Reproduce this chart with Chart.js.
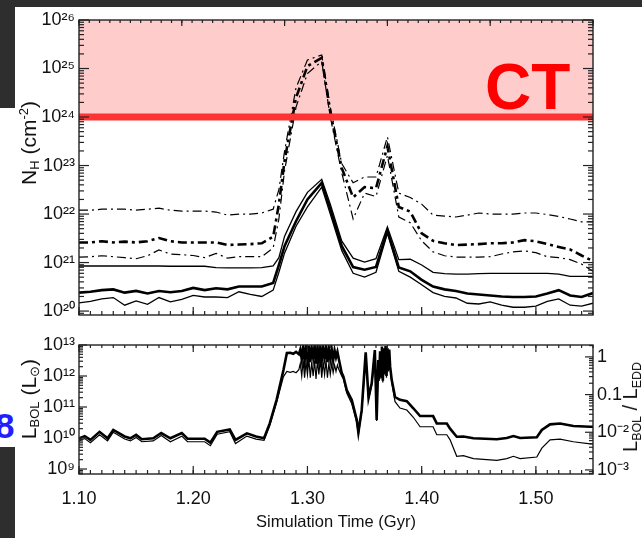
<!DOCTYPE html>
<html>
<head>
<meta charset="utf-8">
<script src="https://cdn.jsdelivr.net/npm/chart.js@4.4.1/dist/chart.umd.min.js"></script>
<style>
  html, body { margin: 0; padding: 0; background: #fff; }
  body { width: 642px; height: 538px; position: relative; overflow: hidden; font-family: 'Liberation Sans', Arial, sans-serif; }
  .slide { position: absolute; background: #2e2e2e; }
  canvas { position: absolute; left: 0; }
  .ytitle { position: absolute; white-space: nowrap; transform: translate(-50%, -50%) rotate(-90deg); font-size: 21px; color: #111; line-height: 1; }
  sub { font-size: 0.62em; vertical-align: -0.3em; line-height: 0; }
  sup { font-size: 0.62em; vertical-align: 0.55em; line-height: 0; }
  #ctLabel { position: absolute; left: 485px; top: 55px; font: bold 64px 'Liberation Sans', Arial, sans-serif; color: #ff0000; line-height: 1; }
  #pageNum { position: absolute; left: -5px; top: 408px; font: bold 35px 'Liberation Sans', Arial, sans-serif; color: #1f1fff; line-height: 1; }
</style>
</head>
<body>
<div class="slide" style="left:0;top:0;width:642px;height:7px"></div>
<div class="slide" style="left:0;top:0;width:15px;height:108px"></div>
<div class="slide" style="left:0;top:447px;width:15px;height:91px"></div>
<div id="pageNum">8</div>

<canvas id="chartNH" width="642" height="330" style="top:0"></canvas>
<canvas id="chartLum" width="642" height="208" style="top:330px"></canvas>

<div class="ytitle" style="left:28px;top:143px">N<sub>H</sub> (cm<sup>-2</sup>)</div>
<div class="ytitle" style="left:28px;top:399px">L<sub>BOL</sub> (L<sub>⊙</sub>)</div>
<div class="ytitle" style="left:630px;top:407px;font-size:20px">L<sub>BOL</sub> / L<sub>EDD</sub></div>
<div id="ctLabel">CT</div>

<script>
// column densities along six sightlines (cm^-2)
const timeNH = [1.10, 1.11, 1.12, 1.13, 1.14, 1.15, 1.16, 1.17, 1.18, 1.19, 1.20, 1.21, 1.22, 1.23, 1.24, 1.25, 1.26, 1.27, 1.275, 1.28,
                1.29, 1.30, 1.3125, 1.32, 1.33, 1.34, 1.35, 1.36, 1.37, 1.38, 1.39, 1.40, 1.41, 1.42, 1.43, 1.44, 1.45, 1.46, 1.47, 1.48,
                1.49, 1.50, 1.51, 1.52, 1.53, 1.54, 1.55];
const nhDashHigh = [1.2e22, 1.2e22, 1.26e22, 1.26e22, 1.26e22, 1.2e22, 1.26e22, 1.32e22, 1.2e22, 1.15e22, 1.15e22, 1.15e22, 1.1e22, 9.5e21, 1.0e22, 1.0e22, 1.05e22, 1.26e22, 3.2e22, 2.0e23,
                    4.0e24, 1.5e25, 1.9e25, 1.6e24, 1.1e23, 4.4e22, 5.8e22, 5.8e22, 3.9e23, 2.7e22, 2.2e22, 1.6e22, 9.5e21, 9.1e21, 8.7e21, 9.5e21, 1.05e22, 1.0e22, 1.0e22, 1.0e22,
                    1.05e22, 1.05e22, 9.8e21, 8.9e21, 7.9e21, 6.9e21, 6.9e21];
const nhDashMid = [2.6e21, 2.6e21, 2.75e21, 2.6e21, 2.7e21, 2.6e21, 2.75e21, 3.2e21, 2.75e21, 2.6e21, 2.6e21, 2.6e21, 2.6e21, 2.3e21, 2.35e21, 2.4e21, 2.5e21, 3.4e21, 1.6e22, 1.26e23,
                   2.5e24, 1.12e25, 1.66e25, 1.26e24, 8.9e22, 2.2e22, 3.6e22, 3.4e22, 2.5e23, 1.4e22, 1.12e22, 4.0e21, 2.8e21, 2.5e21, 2.3e21, 2.35e21, 2.4e21, 2.5e21, 2.5e21, 2.6e21,
                   2.9e21, 2.75e21, 2.4e21, 2.1e21, 1.86e21, 1.4e21, 1.07e21];
const nhDashLow = [1.3e21, 1.32e21, 1.38e21, 1.32e21, 1.26e21, 1.2e21, 1.38e21, 1.82e21, 1.5e21, 1.45e21, 1.4e21, 1.26e21, 1.55e21, 1.23e21, 1.32e21, 1.32e21, 1.32e21, 2.0e21, 7.9e21, 7.9e22,
                   1.6e24, 7.9e24, 1.4e25, 1.0e24, 7.1e22, 7.9e21, 2.7e22, 2.3e22, 1.6e23, 8.7e21, 6.6e21, 2.8e21, 1.66e21, 1.38e21, 1.3e21, 1.3e21, 1.3e21, 1.32e21, 1.5e21, 1.66e21,
                   1.74e21, 1.6e21, 1.32e21, 1.26e21, 1.15e21, 9.3e20, 6.6e20];
const nhSolidHigh = [8.5e20, 8.5e20, 8.5e20, 8.5e20, 8.5e20, 8.5e20, 8.5e20, 8.5e20, 8.4e20, 8.4e20, 8.4e20, 8.4e20, 7.9e20, 7.8e20, 7.8e20, 7.8e20, 7.9e20, 8.5e20, 1.26e21, 3.5e21,
                     1.12e22, 2.8e22, 5.2e22, 1.6e22, 2.8e21, 1.23e21, 1.02e21, 1.2e21, 5.4e21, 1.15e21, 1.17e21, 8.9e20, 6.3e20, 5.9e20, 5.8e20, 5.8e20, 5.9e20, 6.0e20, 6.0e20, 6.0e20,
                     6.0e20, 6.0e20, 6.0e20, 5.8e20, 5.2e20, 5.2e20, 5.2e20];
const nhSolidMid = [2.4e20, 2.5e20, 2.7e20, 2.8e20, 2.4e20, 2.6e20, 2.3e20, 2.6e20, 2.45e20, 2.6e20, 3.0e20, 2.7e20, 2.95e20, 2.8e20, 3.2e20, 3.2e20, 3.2e20, 3.8e20, 8.9e20, 2.2e21,
                    7.1e21, 2.0e22, 4.4e22, 1.26e22, 2.2e21, 8.1e20, 7.1e20, 8.1e20, 4.6e21, 7.9e20, 6.6e20, 4.4e20, 3.2e20, 2.8e20, 2.6e20, 2.3e20, 2.2e20, 2.1e20, 2.0e20, 1.95e20,
                    1.95e20, 2.0e20, 2.3e20, 2.7e20, 2.1e20, 1.95e20, 2.35e20];
const nhSolidLow = [1.48e20, 1.58e20, 1.78e20, 1.9e20, 1.32e20, 1.62e20, 1.38e20, 1.9e20, 1.55e20, 1.74e20, 2.1e20, 1.95e20, 1.95e20, 1.9e20, 2.5e20, 2.2e20, 2.0e20, 2.7e20, 6.3e20, 1.58e21,
                    5.6e21, 1.4e22, 3.6e22, 1.0e22, 1.78e21, 6.0e20, 5.0e20, 6.3e20, 4.0e21, 6.6e20, 5.0e20, 3.5e20, 2.4e20, 2.0e20, 1.86e20, 1.45e20, 1.4e20, 1.55e20, 1.32e20, 1.2e20,
                    1.2e20, 1.26e20, 1.58e20, 1.78e20, 1.32e20, 1.26e20, 1.45e20];
const ctThreshold = 1e24;

// bolometric luminosity (L_sun) and Eddington ratio
const timeLum = [1.100, 1.105, 1.110, 1.118, 1.125, 1.130, 1.140, 1.145, 1.150, 1.155, 1.165, 1.172, 1.180, 1.190, 1.195, 1.210, 1.215, 1.221, 1.232, 1.237,
                 1.247, 1.255, 1.262, 1.267, 1.273, 1.279, 1.282, 1.285, 1.2875, 1.290,
                 1.2925, 1.29375, 1.295, 1.29625, 1.2975, 1.29875, 1.300, 1.30125, 1.3025, 1.30375, 1.305, 1.30625, 1.3075, 1.30875, 1.310, 1.31125, 1.3125, 1.31375, 1.315, 1.31625,
                 1.3175, 1.31875, 1.320, 1.32125, 1.3225, 1.32375, 1.325, 1.32625, 1.3275,
                 1.330, 1.3315, 1.3344, 1.3388, 1.3432, 1.3446, 1.3475, 1.351, 1.3535, 1.3563, 1.359, 1.3606,
                 1.3620, 1.3628, 1.3636, 1.3644, 1.3652, 1.3660, 1.3668, 1.3676, 1.3684, 1.3692, 1.3700, 1.3708, 1.3716, 1.3724,
                 1.3738, 1.3767, 1.381, 1.387, 1.3927, 1.3986, 1.410, 1.4132, 1.422, 1.4249, 1.4307, 1.4365, 1.4453, 1.4658, 1.4745, 1.4803, 1.4862, 1.5008, 1.5052, 1.5124,
                 1.5212, 1.5328, 1.5475, 1.550];
const lumBol = [9.8e9, 1.15e10, 8.7e9, 1.58e10, 9.8e9, 1.82e10, 1.12e10, 9.8e9, 1.26e10, 9.1e9, 9.8e9, 1.45e10, 9.8e9, 1.45e10, 9.5e9, 9.5e9, 7.1e9, 1.58e10, 1.9e10, 8.7e9,
                1.41e10, 1.12e10, 9.8e9, 2.95e10, 1.7e11, 1.55e12, 5.5e12, 5.6e12, 5.2e12, 6.0e12,
                5.0e12, 7.1e12, 3.5e12, 8.3e12, 3.2e12, 8.9e12, 3.5e12, 9.5e12, 2.8e12, 7.9e12, 4.0e12, 9.3e12, 2.5e12, 8.3e12, 3.5e12, 9.8e12, 3.2e12, 7.9e12, 4.0e12, 8.9e12,
                2.8e12, 7.6e12, 3.5e12, 7.1e12, 3.2e12, 6.6e12, 4.0e12, 6.0e12, 3.5e12,
                1.26e12, 9.5e11, 3.5e11, 1.7e11, 3.8e10, 1.5e10, 7.9e10, 5.8e12, 2.0e11, 5.9e11, 6.9e12, 3.8e10,
                3.3e12, 7.9e11, 6.3e12, 1.0e12, 8.9e12, 7.1e11, 7.9e12, 1.26e12, 9.3e12, 1.0e12, 7.9e12, 1.58e12, 7.1e12, 2.0e12,
                7.4e11, 2.1e11, 1.7e11, 1.55e11, 9.1e10, 5.1e10, 5.1e10, 2.95e10, 2.95e10, 2.0e10, 1.1e10, 1.12e10, 9.8e9, 9.1e9, 1.0e10, 1.15e10, 1.0e10, 1.05e10, 1.82e10, 2.75e10,
                2.95e10, 2.45e10, 2.3e10, 2.3e10];
const eddRatio = [0.0059, 0.0068, 0.0053, 0.0086, 0.0059, 0.0100, 0.0066, 0.0059, 0.0073, 0.0056, 0.0059, 0.0082, 0.0056, 0.0079, 0.0056, 0.0056, 0.0044, 0.0089, 0.0103, 0.0050,
                  0.0079, 0.0066, 0.0061, 0.0151, 0.062, 0.30, 0.41, 0.39, 0.41, 0.38,
                  0.46, 0.67, 0.31, 0.80, 0.28, 0.73, 0.34, 0.88, 0.28, 0.73, 0.31, 0.80, 0.26, 0.80, 0.34, 0.88, 0.28, 0.73, 0.34, 0.80,
                  0.28, 0.67, 0.34, 0.67, 0.38, 0.61, 0.41, 0.61, 0.46,
                  0.31, 0.26, 0.11, 0.057, 0.018, 0.0086, 0.035, 1.0, 0.075, 0.18, 1.0, 0.020,
                  0.73, 0.23, 1.0, 0.28, 1.0, 0.21, 1.0, 0.34, 1.0, 0.28, 1.0, 0.41, 1.0, 0.48,
                  0.21, 0.065, 0.044, 0.039, 0.025, 0.014, 0.014, 0.0086, 0.0086, 0.0063, 0.0023, 0.0024, 0.0020, 0.0018, 0.0020, 0.0023, 0.0020, 0.0022, 0.0038, 0.0063,
                  0.0066, 0.0056, 0.0049, 0.0049];

// axes
const timeRange = [1.10, 1.55];
const timeTicks = [1.10, 1.20, 1.30, 1.40, 1.50];
const nhRange = [8.3e19, 1e26];
const nhTicks = [1e20, 1e21, 1e22, 1e23, 1e24, 1e25, 1e26];
const lumRange = [6.9e8, 1e13];
const lumTicks = [1e9, 1e10, 1e11, 1e12, 1e13];
const eddRange = [7.8e-4, 2.07];
const eddTicks = [1e-3, 1e-2, 0.1, 1];
const eddLabels = ['10⁻³', '10⁻²', '0.1', '1'];

const tickFont = { family: "'Liberation Sans', Arial, sans-serif", size: 18 };
const sup = { '-': '⁻', '0': '⁰', '1': '¹', '2': '²', '3': '³', '4': '⁴', '5': '⁵', '6': '⁶', '7': '⁷', '8': '⁸', '9': '⁹' };
const powerLabel = v => '10' + String(Math.round(Math.log10(v))).split('').map(c => sup[c]).join('');

function steps(from, to, step) {
    const out = [];
    for (let i = 0; from + i * step <= to + 1e-9; i++) out.push(from + i * step);
    return out;
}
function logMinors(lo, hi) {
    const out = [];
    for (let k = Math.floor(Math.log10(lo)); k <= Math.ceil(Math.log10(hi)); k++) {
        for (let m = 2; m <= 9; m++) {
            const v = m * Math.pow(10, k);
            if (v >= lo && v <= hi) out.push(v);
        }
    }
    return out;
}

// box around the plot with inward tick marks, like the IDL original
const idlFrame = {
    id: 'idlFrame',
    afterDraw(chart, args, opts) {
        const { ctx, chartArea: a, scales } = chart;
        ctx.save();
        ctx.strokeStyle = '#222';
        ctx.lineWidth = 1.2;
        const seg = (x1, y1, x2, y2) => { ctx.beginPath(); ctx.moveTo(x1, y1); ctx.lineTo(x2, y2); ctx.stroke(); };
        opts.marks.forEach(m => {
            const s = scales[m.axis];
            m.values.forEach(v => {
                if (v < s.min - 1e-12 || v > s.max + 1e-12) return;
                const p = s.getPixelForValue(v);
                if (m.edge === 'top') seg(p, a.top, p, a.top + m.len);
                if (m.edge === 'bottom') seg(p, a.bottom, p, a.bottom - m.len);
                if (m.edge === 'left') seg(a.left, p, a.left + m.len, p);
                if (m.edge === 'right') seg(a.right, p, a.right - m.len, p);
            });
        });
        ctx.lineWidth = 1.4;
        ctx.strokeRect(a.left, a.top, a.right - a.left, a.bottom - a.top);
        ctx.restore();
    }
};

// Compton-thick zone
const ctZone = {
    id: 'ctZone',
    beforeDatasetsDraw(chart) {
        const { ctx, chartArea: a, scales: { y } } = chart;
        const py = y.getPixelForValue(ctThreshold);
        ctx.save();
        ctx.fillStyle = '#ffcccc';
        ctx.fillRect(a.left, a.top, a.right - a.left, py - a.top);
        ctx.restore();
    },
    afterDatasetsDraw(chart) {
        const { ctx, chartArea: a, scales: { y } } = chart;
        const py = y.getPixelForValue(ctThreshold);
        ctx.save();
        ctx.strokeStyle = '#ff3333';
        ctx.lineWidth = 7;
        ctx.beginPath(); ctx.moveTo(a.left, py); ctx.lineTo(a.right, py); ctx.stroke();
        ctx.restore();
    }
};

const pts = (xs, ys) => xs.map((x, i) => ({ x: x, y: ys[i] }));
const line = (data, width, dash, axis) => ({
    data: data, borderColor: '#000', borderWidth: width, borderDash: dash || [],
    pointRadius: 0, tension: 0, fill: false, yAxisID: axis || 'y'
});
const hiddenGrid = { display: false, drawTicks: false };

new Chart(document.getElementById('chartNH'), {
    type: 'line',
    data: {
        datasets: [
            line(pts(timeNH, nhDashHigh), 1.2, [9, 4, 2, 4]),
            line(pts(timeNH, nhDashMid), 2.6, [9, 4, 3, 4]),
            line(pts(timeNH, nhDashLow), 1.2, [9, 4, 2, 4]),
            line(pts(timeNH, nhSolidHigh), 1.3),
            line(pts(timeNH, nhSolidMid), 2.6),
            line(pts(timeNH, nhSolidLow), 1.3)
        ]
    },
    options: {
        responsive: false,
        animation: false,
        layout: { padding: { top: 20, right: 49, left: 0, bottom: 0 } },
        plugins: {
            legend: { display: false },
            tooltip: { enabled: false },
            idlFrame: {
                marks: [
                    { axis: 'x', edge: 'top', values: steps(1.10, 1.55, 0.009), len: 3 },
                    { axis: 'x', edge: 'top', values: steps(1.10, 1.55, 0.09), len: 6 },
                    { axis: 'x', edge: 'bottom', values: steps(1.10, 1.55, 0.01), len: 4 },
                    { axis: 'x', edge: 'bottom', values: timeTicks, len: 8 },
                    { axis: 'y', edge: 'left', values: logMinors(nhRange[0], nhRange[1]), len: 5 },
                    { axis: 'y', edge: 'left', values: nhTicks, len: 10 },
                    { axis: 'y', edge: 'right', values: logMinors(nhRange[0], nhRange[1]), len: 5 },
                    { axis: 'y', edge: 'right', values: nhTicks, len: 10 }
                ]
            }
        },
        scales: {
            x: {
                type: 'linear', min: timeRange[0], max: timeRange[1],
                grid: hiddenGrid, border: { display: false },
                ticks: { display: false },
                afterFit: s => { s.height = 15; }
            },
            y: {
                type: 'logarithmic', min: nhRange[0], max: nhRange[1],
                grid: hiddenGrid, border: { display: false },
                afterBuildTicks: s => { s.ticks = nhTicks.map(v => ({ value: v })); },
                ticks: { autoSkip: false, padding: 4, color: '#111', font: tickFont, callback: v => powerLabel(v) },
                afterFit: s => { s.width = 79; }
            }
        }
    },
    plugins: [ctZone, idlFrame]
});

new Chart(document.getElementById('chartLum'), {
    type: 'line',
    data: {
        datasets: [
            line(pts(timeLum, lumBol), 2.6, null, 'y'),
            line(pts(timeLum, eddRatio), 1.2, null, 'y2')
        ]
    },
    options: {
        responsive: false,
        animation: false,
        layout: { padding: { top: 15, right: 0, left: 0, bottom: 0 } },
        plugins: {
            legend: { display: false },
            tooltip: { enabled: false },
            idlFrame: {
                marks: [
                    { axis: 'x', edge: 'top', values: steps(1.10, 1.55, 0.01), len: 3 },
                    { axis: 'x', edge: 'top', values: timeTicks, len: 7 },
                    { axis: 'x', edge: 'bottom', values: steps(1.10, 1.55, 0.01), len: 4 },
                    { axis: 'x', edge: 'bottom', values: timeTicks, len: 8 },
                    { axis: 'y', edge: 'left', values: logMinors(lumRange[0], lumRange[1]), len: 4 },
                    { axis: 'y', edge: 'left', values: lumTicks, len: 8 },
                    { axis: 'y2', edge: 'right', values: logMinors(eddRange[0], eddRange[1]), len: 4 },
                    { axis: 'y2', edge: 'right', values: eddTicks, len: 8 }
                ]
            }
        },
        scales: {
            x: {
                type: 'linear', min: timeRange[0], max: timeRange[1],
                grid: hiddenGrid, border: { display: false },
                afterBuildTicks: s => { s.ticks = timeTicks.map(v => ({ value: v })); },
                ticks: { autoSkip: false, maxRotation: 0, padding: 14, color: '#111', font: tickFont, callback: v => v.toFixed(2) },
                title: { display: true, text: 'Simulation Time (Gyr)', color: '#111', font: { family: tickFont.family, size: 16.5 }, padding: { top: 0, bottom: 6 } },
                afterFit: s => { s.height = 64; }
            },
            y: {
                type: 'logarithmic', position: 'left', min: lumRange[0], max: lumRange[1],
                grid: hiddenGrid, border: { display: false },
                afterBuildTicks: s => { s.ticks = lumTicks.map(v => ({ value: v })); },
                ticks: { autoSkip: false, padding: 4, color: '#111', font: tickFont, callback: v => powerLabel(v) },
                afterFit: s => { s.width = 79; }
            },
            y2: {
                type: 'logarithmic', position: 'right', min: eddRange[0], max: eddRange[1],
                grid: hiddenGrid, border: { display: false },
                afterBuildTicks: s => { s.ticks = eddTicks.map(v => ({ value: v })); },
                ticks: { autoSkip: false, padding: 4, color: '#111', font: tickFont, callback: (v, i) => eddLabels[i] },
                afterFit: s => { s.width = 49; }
            }
        }
    },
    plugins: [idlFrame]
});
</script>
</body>
</html>
